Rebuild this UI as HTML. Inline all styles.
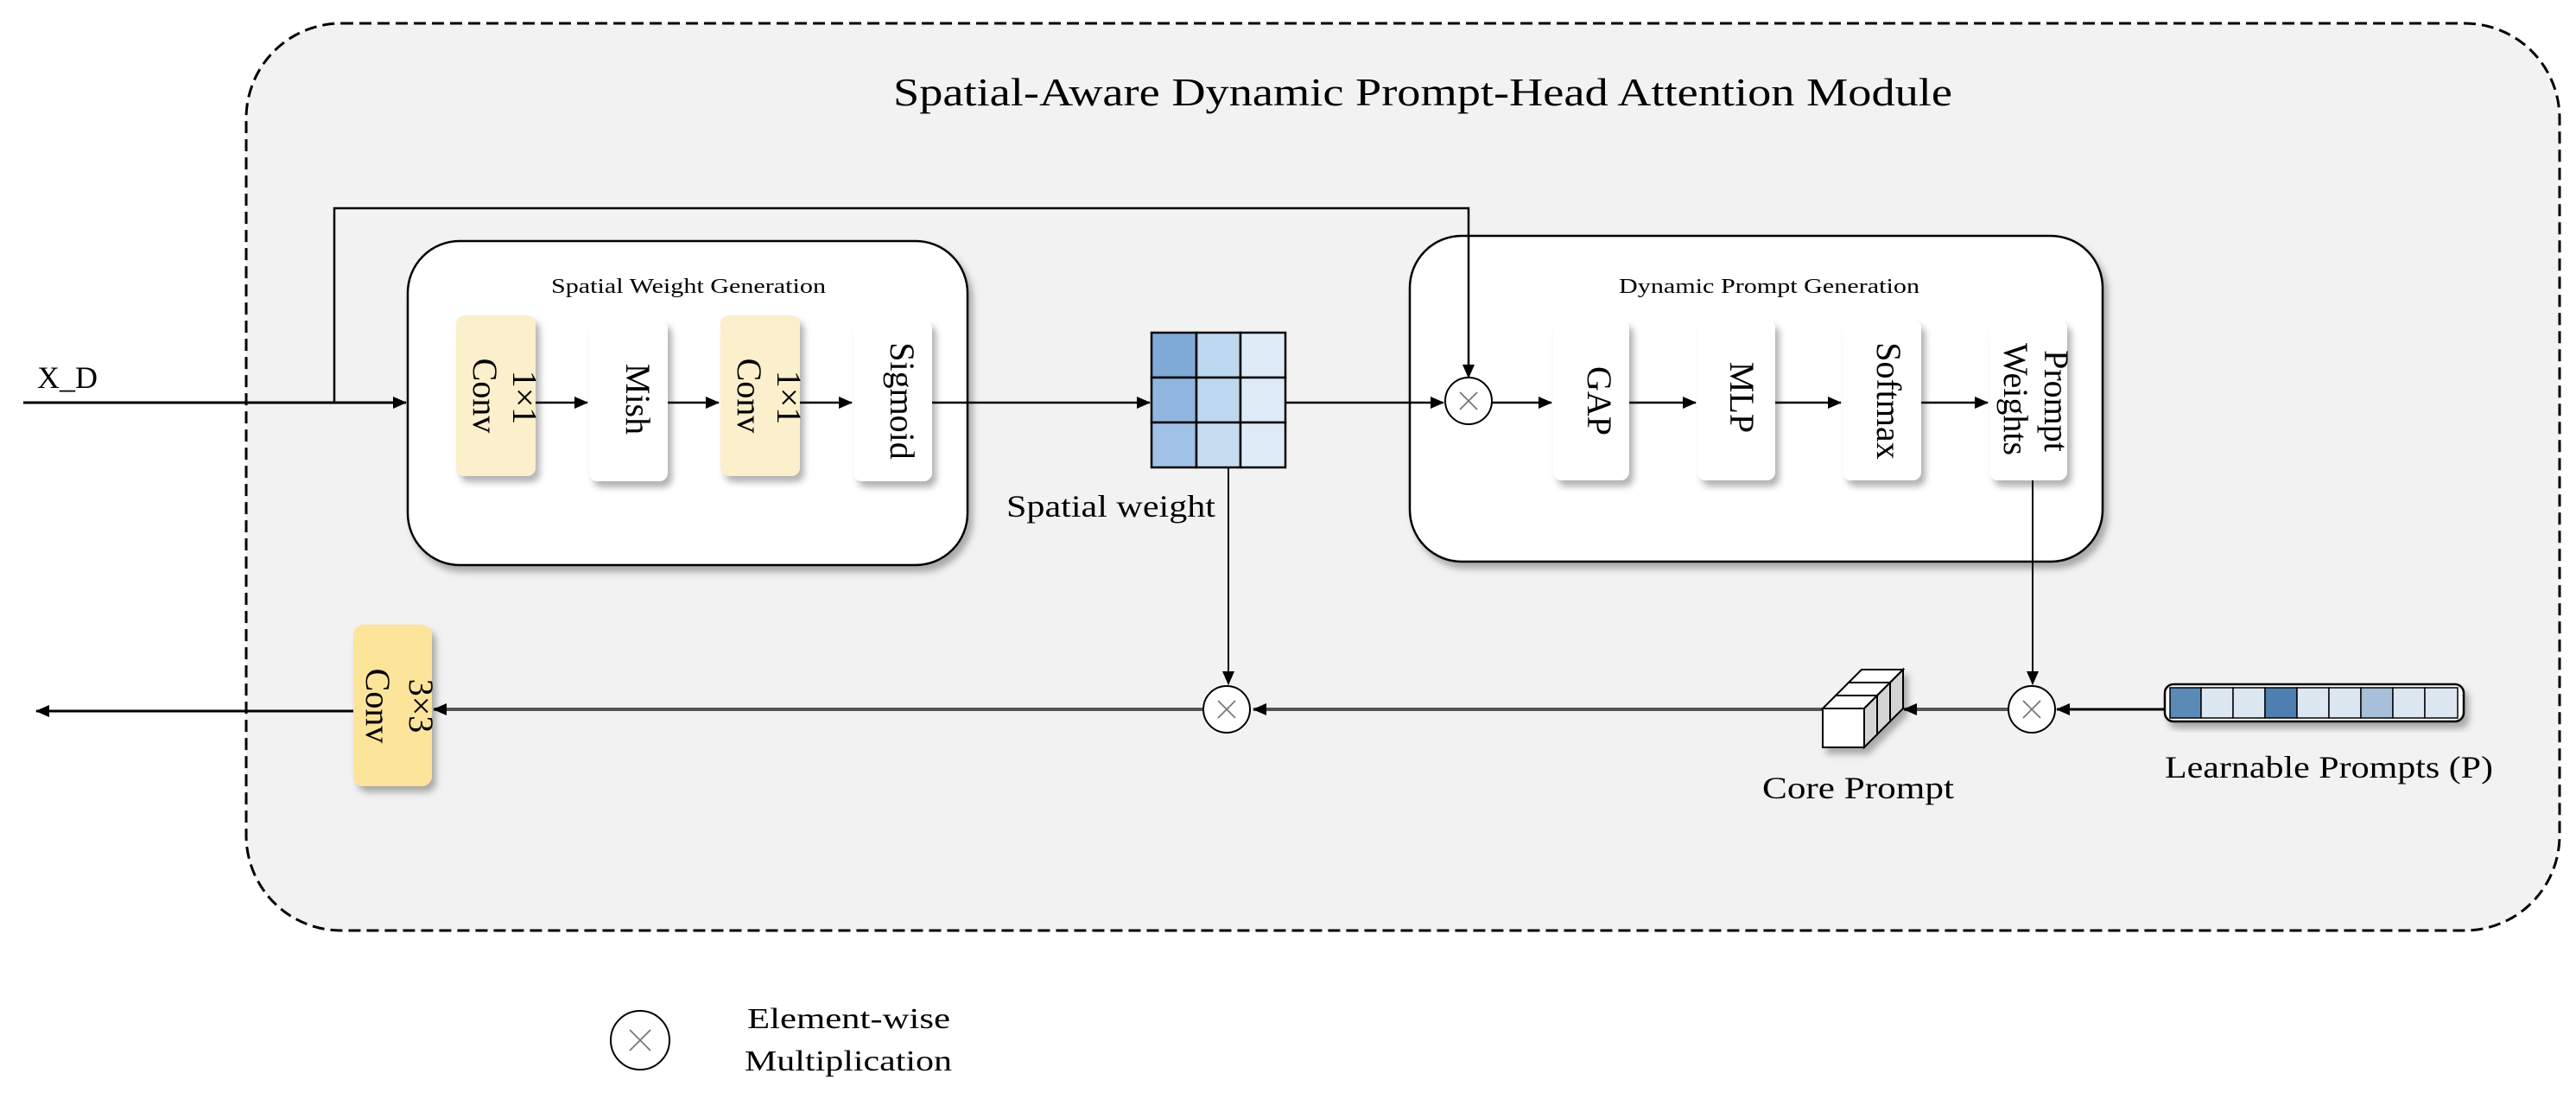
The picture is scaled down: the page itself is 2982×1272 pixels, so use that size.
<!DOCTYPE html>
<html><head><meta charset="utf-8"><style>
html,body{margin:0;padding:0;background:#fff;}
svg{display:block;}
text{font-family:"Liberation Serif",serif;fill:#000;}
</style></head><body>
<svg width="2982" height="1272" viewBox="0 0 2982 1272" xmlns="http://www.w3.org/2000/svg">
<defs>
<marker id="ah" markerWidth="16" markerHeight="14" refX="15" refY="7" orient="auto" markerUnits="userSpaceOnUse">
<path d="M0,0 L16,7 L0,14 Z" fill="#000"/></marker>
<filter id="sh" x="-20%" y="-20%" width="150%" height="150%">
<feDropShadow dx="5" dy="7" stdDeviation="4" flood-color="#000" flood-opacity="0.3"/></filter>
</defs>
<rect x="285" y="27" width="2678" height="1050" rx="110" ry="110" fill="#f2f2f2" stroke="#000" stroke-width="3" stroke-dasharray="14,7"/>
<text x="1647" y="122" font-size="46" text-anchor="middle" textLength="1226" lengthAdjust="spacingAndGlyphs">Spatial-Aware Dynamic Prompt-Head Attention Module</text>

<rect x="472" y="279" width="648" height="375" rx="60" fill="#fff" stroke="#000" stroke-width="2.5" filter="url(#sh)"/>
<text x="797" y="339" font-size="24" text-anchor="middle" textLength="318" lengthAdjust="spacingAndGlyphs">Spatial Weight Generation</text>
<rect x="528" y="365" width="92" height="186" rx="10" fill="#fbefcc" filter="url(#sh)"/>
<rect x="682" y="370" width="91" height="187" rx="10" fill="#fff" filter="url(#sh)"/>
<rect x="834" y="365" width="92" height="186" rx="10" fill="#fbefcc" filter="url(#sh)"/>
<rect x="988" y="370" width="91" height="187" rx="10" fill="#fff" filter="url(#sh)"/>
<g font-size="40" text-anchor="middle">
<text transform="translate(594,460) rotate(90)">1×1</text>
<text transform="translate(548,458) rotate(90)">Conv</text>
<text transform="translate(725,462) rotate(90)">Mish</text>
<text transform="translate(900,460) rotate(90)">1×1</text>
<text transform="translate(854,458) rotate(90)">Conv</text>
<text transform="translate(1031,464) rotate(90)">Sigmoid</text>
</g>

<rect x="1632" y="273" width="802" height="377" rx="60" fill="#fff" stroke="#000" stroke-width="2.5" filter="url(#sh)"/>
<text x="2048" y="339" font-size="24" text-anchor="middle" textLength="348" lengthAdjust="spacingAndGlyphs">Dynamic Prompt Generation</text>
<rect x="1798" y="370" width="88" height="186" rx="10" fill="#fff" filter="url(#sh)"/>
<rect x="1965" y="370" width="90" height="186" rx="10" fill="#fff" filter="url(#sh)"/>
<rect x="2133" y="370" width="91" height="186" rx="10" fill="#fff" filter="url(#sh)"/>
<rect x="2303" y="370" width="90" height="186" rx="10" fill="#fff" filter="url(#sh)"/>
<g font-size="40" text-anchor="middle">
<text transform="translate(1838,464) rotate(90)">GAP</text>
<text transform="translate(2003,460) rotate(90)">MLP</text>
<text transform="translate(2173,464) rotate(90)">Softmax</text>
<text transform="translate(2367,464) rotate(90)">Prompt</text>
<text transform="translate(2320,462) rotate(90)">Weights</text>
</g>

<g stroke="#000" stroke-width="2.5" fill="none">
<line x1="27" y1="466" x2="470" y2="466" marker-end="url(#ah)" stroke-width="3"/>
<polyline points="387,466 387,241 1700,241 1700,437" marker-end="url(#ah)"/>
<line x1="620" y1="466" x2="680" y2="466" marker-end="url(#ah)"/>
<line x1="773" y1="466" x2="832" y2="466" marker-end="url(#ah)"/>
<line x1="926" y1="466" x2="986" y2="466" marker-end="url(#ah)"/>
<line x1="1079" y1="466" x2="1331" y2="466" marker-end="url(#ah)"/>
<line x1="1488" y1="466" x2="1671" y2="466" marker-end="url(#ah)"/>
<line x1="1727" y1="466" x2="1796" y2="466" marker-end="url(#ah)"/>
<line x1="1886" y1="466" x2="1963" y2="466" marker-end="url(#ah)"/>
<line x1="2055" y1="466" x2="2131" y2="466" marker-end="url(#ah)"/>
<line x1="2224" y1="466" x2="2301" y2="466" marker-end="url(#ah)"/>
<line x1="1422" y1="541" x2="1422" y2="792" marker-end="url(#ah)" stroke-width="2"/>
<line x1="2353" y1="556" x2="2353" y2="792" marker-end="url(#ah)" stroke-width="2"/>
<line x1="2506" y1="821" x2="2381" y2="821" marker-end="url(#ah)" stroke-width="3"/>
<line x1="2325" y1="821" x2="2204" y2="821" marker-end="url(#ah)" stroke="#555" stroke-width="4"/>
<line x1="2110" y1="821" x2="1451" y2="821" marker-end="url(#ah)" stroke="#555" stroke-width="4"/>
<line x1="1394" y1="821" x2="502" y2="821" marker-end="url(#ah)" stroke="#555" stroke-width="4"/>
<line x1="409" y1="823" x2="42" y2="823" marker-end="url(#ah)" stroke-width="3"/>
</g>
<text x="43" y="449" font-family="Liberation Mono" font-size="36">X_D</text>

<g stroke="#000" stroke-width="2" fill="#fff">
<circle cx="1700" cy="464" r="27"/>
<circle cx="1420" cy="821" r="27"/>
<circle cx="2352" cy="821" r="27"/>
<circle cx="741" cy="1204" r="34"/>
</g>
<g stroke="#777" stroke-width="1.8">
<path d="M1690,454 L1710,474 M1710,454 L1690,474"/>
<path d="M1410,811 L1430,831 M1430,811 L1410,831"/>
<path d="M2342,811 L2362,831 M2362,811 L2342,831"/>
<path d="M729,1192 L753,1216 M753,1192 L729,1216"/>
</g>

<g stroke="#000" stroke-width="2.5">
<rect x="1333" y="385" width="52" height="52" fill="#7fa9d6"/>
<rect x="1333" y="437" width="52" height="52" fill="#8fb6de"/>
<rect x="1333" y="489" width="52" height="52" fill="#a0c2e6"/>
<rect x="1385" y="385" width="51" height="52" fill="#bdd7ee"/>
<rect x="1385" y="437" width="51" height="52" fill="#bdd7ee"/>
<rect x="1385" y="489" width="51" height="52" fill="#c6dcf0"/>
<rect x="1436" y="385" width="52" height="52" fill="#deebf7"/>
<rect x="1436" y="437" width="52" height="52" fill="#deebf7"/>
<rect x="1436" y="489" width="52" height="52" fill="#deebf7"/>
</g>
<text x="1286" y="598" font-size="36" text-anchor="middle" textLength="242" lengthAdjust="spacingAndGlyphs">Spatial weight</text>

<rect x="409" y="723" width="91" height="187" rx="12" fill="#fde49b" filter="url(#sh)"/>
<g font-size="40" text-anchor="middle">
<text transform="translate(474,817) rotate(90)">3×3</text>
<text transform="translate(424,817) rotate(90)">Conv</text>
</g>

<!-- core prompt: three cubes along diagonal -->
<g stroke="#000" stroke-width="2" filter="url(#sh)">
<g transform="translate(30,-30)">
<polygon points="2110,820 2125,805 2173,805 2158,820" fill="#fff"/>
<polygon points="2158,820 2173,805 2173,850 2158,865" fill="#d4d4d4"/>
<rect x="2110" y="820" width="48" height="45" fill="#fff"/>
</g>
<g transform="translate(15,-15)">
<polygon points="2110,820 2125,805 2173,805 2158,820" fill="#fff"/>
<polygon points="2158,820 2173,805 2173,850 2158,865" fill="#d4d4d4"/>
<rect x="2110" y="820" width="48" height="45" fill="#fff"/>
</g>
<polygon points="2110,820 2125,805 2173,805 2158,820" fill="#fff"/>
<polygon points="2158,820 2173,805 2173,850 2158,865" fill="#d4d4d4"/>
<rect x="2110" y="820" width="48" height="45" fill="#fff"/>
</g>
<text x="2151" y="924" font-size="36" text-anchor="middle" textLength="222" lengthAdjust="spacingAndGlyphs">Core Prompt</text>

<g filter="url(#sh)">
<rect x="2506" y="792" width="346" height="43" rx="10" fill="#fff" stroke="#000" stroke-width="2.5"/>
</g>
<g stroke="#000" stroke-width="1.5">
<rect x="2512" y="796" width="36" height="35" fill="#5b8ab8"/>
<rect x="2548" y="796" width="37" height="35" fill="#dde7f2"/>
<rect x="2585" y="796" width="37" height="35" fill="#dde7f2"/>
<rect x="2622" y="796" width="37" height="35" fill="#4f7fb0"/>
<rect x="2659" y="796" width="37" height="35" fill="#dde7f2"/>
<rect x="2696" y="796" width="37" height="35" fill="#dde7f2"/>
<rect x="2733" y="796" width="37" height="35" fill="#a7bfd9"/>
<rect x="2770" y="796" width="37" height="35" fill="#dde7f2"/>
<rect x="2807" y="796" width="38" height="35" fill="#dde7f2"/>
</g>
<text x="2696" y="900" font-size="36" text-anchor="middle" textLength="380" lengthAdjust="spacingAndGlyphs">Learnable Prompts (P)</text>

<text x="865" y="1190" font-size="34" textLength="235" lengthAdjust="spacingAndGlyphs">Element-wise</text>
<text x="862" y="1239" font-size="34" textLength="240" lengthAdjust="spacingAndGlyphs">Multiplication</text>
</svg>
</body></html>
